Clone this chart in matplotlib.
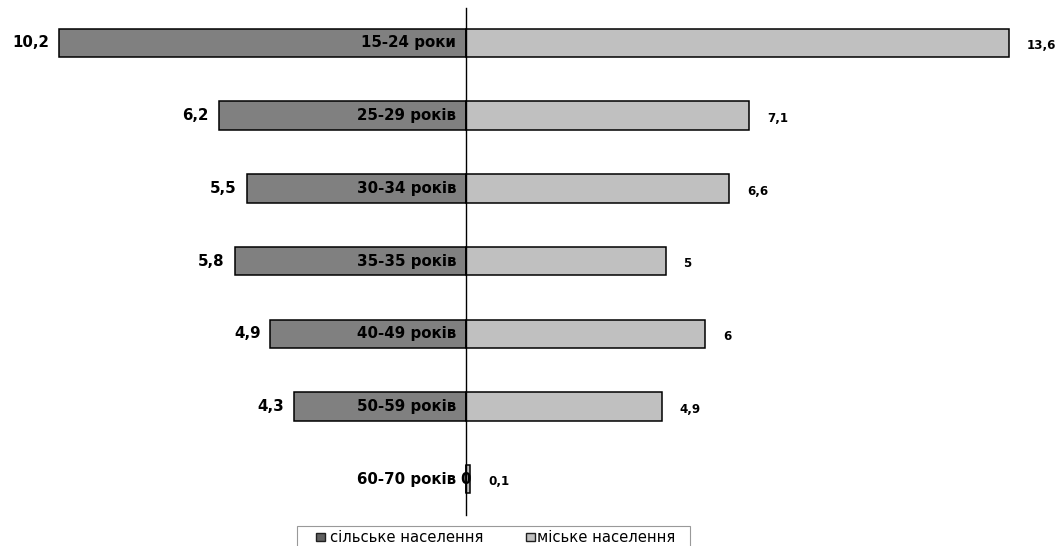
import matplotlib
matplotlib.use("Agg")
matplotlib.rcParams.update({"font.family": ["DejaVu Sans"]})
import matplotlib.pyplot as plt
from matplotlib.patches import Rectangle

ages = ["15-24 роки", "25-29 років", "30-34 років", "35-35 років",
        "40-49 років", "50-59 років", "60-70 років"]
rural = [10.2, 6.2, 5.5, 5.8, 4.9, 4.3, 0]
urban = [13.6, 7.1, 6.6, 5, 6, 4.9, 0.1]
rural_lbl = ["10,2", "6,2", "5,5", "5,8", "4,9", "4,3", "0"]
urban_lbl = ["13,6", "7,1", "6,6", "5", "6", "4,9", "0,1"]
legend_lbl = ["сільське населення", "міське населення"]

DARK, LIGHT = "#808080", "#c0c0c0"
W, H = 1064, 546

fig = plt.figure(figsize=(W / 100, H / 100), dpi=100)
ax = fig.add_axes([0, 0, 1, 1])
ax.set_axis_off()

# pixel geometry: centre line at x=466, ~39.9 px per unit, rows 72.67 px apart
ppu, row, y0 = 39.9, 72.67, 43
ax.set_xlim(-466 / ppu, (W - 466) / ppu)
ax.set_ylim((H - y0) / row, -y0 / row)

ys = list(range(len(ages)))
ax.barh(ys, [-v for v in rural], height=0.39, color=DARK, edgecolor="black", lw=1.1, zorder=2)
ax.barh(ys, urban, height=0.39, color=LIGHT, edgecolor="black", lw=1.1, zorder=2)
ax.plot([0, 0], [(8 - y0) / row, (515 - y0) / row], color="black", lw=1.0, zorder=3)

for y, a, r, u, rl, ul in zip(ys, ages, rural, urban, rural_lbl, urban_lbl):
    ax.text(-0.25, y, a, ha="right", va="center", fontsize=10.8, fontweight="bold", zorder=4)
    if r > 0:
        ax.text(-r - 0.25, y, rl, ha="right", va="center", fontsize=10.8, fontweight="bold")
    else:
        ax.text(-0.02, y, rl, ha="center", va="center", fontsize=10.8, fontweight="bold", zorder=4)
    ax.text(u + 0.45, y + 0.04, ul, ha="left", va="center", fontsize=8.6, fontweight="bold")

# legend drawn by hand in pixel coords (box is cut by the bottom edge)
def fx(px): return px / W
def fy(py): return 1 - py / H

fig.patches.append(Rectangle((fx(297), fy(560)), fx(690) - fx(297), fy(526) - fy(560),
                             transform=fig.transFigure, facecolor="white",
                             edgecolor="#999999", lw=0.8))
for (mx, tx), lbl, col in zip([(316, 330), (526, 537)], legend_lbl, ["#606060", LIGHT]):
    fig.patches.append(Rectangle((fx(mx), fy(541)), fx(9), 8 / H, transform=fig.transFigure,
                                 facecolor=col, edgecolor="#202020", lw=1.0))
    fig.text(fx(tx), fy(537), lbl, ha="left", va="center", fontsize=10.6)

fig.savefig("out.png", dpi=100)
